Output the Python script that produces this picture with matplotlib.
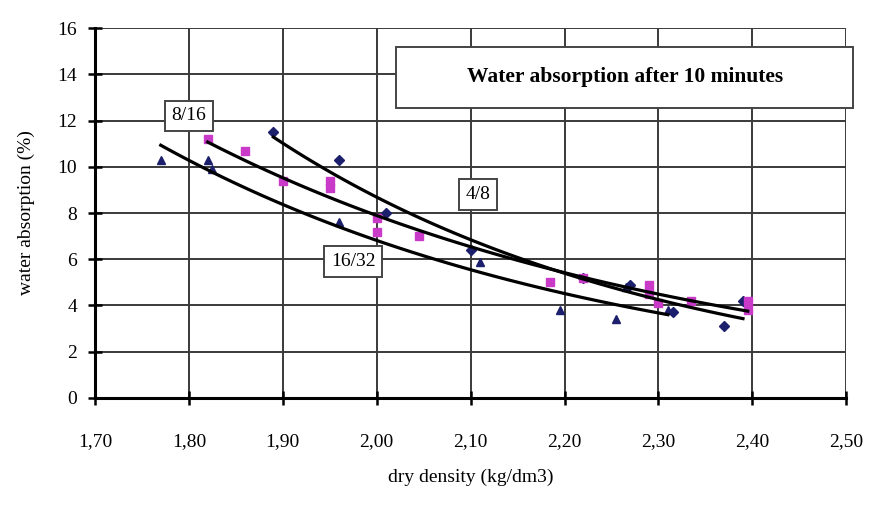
import matplotlib
matplotlib.use("Agg")
import matplotlib.pyplot as plt
from matplotlib.patches import Rectangle
import numpy as np

plt.rcParams['font.family'] = ['Liberation Serif', 'DejaVu Serif']

# measured points, dry density (kg/dm3) vs water absorption (%)
x_48 = [1.89, 1.96, 2.01, 2.10, 2.22, 2.27, 2.315, 2.37, 2.39]
y_48 = [11.5, 10.3, 8.0, 6.4, 5.2, 4.9, 3.7, 3.1, 4.2]

x_816 = [1.82, 1.86, 1.90, 1.95, 1.95, 2.00, 2.00, 2.045, 2.185, 2.22, 2.29, 2.29, 2.30, 2.335, 2.395, 2.395]
y_816 = [11.2, 10.7, 9.4, 9.4, 9.1, 7.8, 7.2, 7.0, 5.0, 5.2, 4.9, 4.5, 4.1, 4.2, 3.8, 4.2]

x_1632 = [1.77, 1.82, 1.825, 1.96, 2.11, 2.195, 2.255, 2.265, 2.31]
y_1632 = [10.3, 10.3, 9.9, 7.6, 5.9, 3.8, 3.4, 4.8, 3.8]

xticks = [1.70, 1.80, 1.90, 2.00, 2.10, 2.20, 2.30, 2.40, 2.50]
yticks = [0, 2, 4, 6, 8, 10, 12, 14, 16]

navy = '#1c1f6b'
magenta = '#c93ac9'


def exp_trend(x, y):
    # exponential trendline, fitted on log(y)
    x = np.asarray(x)
    b, a = np.polyfit(x, np.log(y), 1)
    xs = np.linspace(x.min(), x.max(), 100)
    return xs, np.exp(a + b * xs)


fig = plt.figure(figsize=(8.74, 5.15), dpi=100)
ax = fig.add_axes([0.1087, 0.2272, 0.8596, 0.7184])

ax.plot(x_48, y_48, 'D', color=navy, ms=5, zorder=3)
ax.plot(x_816, y_816, 's', color=magenta, ms=6, zorder=3)
ax.plot(x_1632, y_1632, '^', color=navy, ms=6, zorder=3)

for xs_, ys_ in [(x_48, y_48), (x_816, y_816), (x_1632, y_1632)]:
    tx, ty = exp_trend(xs_, ys_)
    ax.plot(tx, ty, color='black', lw=2.3, zorder=4)

ax.set_xlim(1.70, 2.50)
ax.set_ylim(0, 16)
ax.set_xticks(xticks)
ax.set_yticks(yticks)
ax.set_xticklabels([f"{t:.2f}".replace('.', ',') for t in xticks])
ax.grid(True, color='#3a3a3a', lw=1.4)
ax.set_axisbelow(True)
for s in ['top', 'right']:
    ax.spines[s].set_visible(False)
for s in ['left', 'bottom']:
    ax.spines[s].set_linewidth(2.2)
ax.tick_params(axis='both', direction='inout', length=10, width=1.8, labelsize=14)
ax.tick_params(axis='x', pad=20)
ax.tick_params(axis='y', pad=8)

ax.set_xlabel('dry density (kg/dm3)', fontsize=14, labelpad=14)
ax.set_ylabel('water absorption (%)', fontsize=14, labelpad=16)

box = dict(boxstyle='square,pad=0.35', fc='white', ec='#444444', lw=1.4)
ax.text(1.80, 12.2, '8/16', fontsize=14, ha='center', va='center', bbox=box, zorder=5)
ax.text(2.108, 8.8, '4/8', fontsize=14, ha='center', va='center', bbox=box, zorder=5)
ax.text(1.975, 5.9, '16/32', fontsize=14, ha='center', va='center', bbox=box, zorder=5)

# title box, runs a little past the right edge of the plot
ax.add_patch(Rectangle((2.021, 12.55), 0.486, 2.65, fc='white', ec='#444444', lw=1.4,
                       clip_on=False, zorder=5))
ax.text(2.264, 13.9, 'Water absorption after 10 minutes', fontsize=15.5, fontweight='bold',
        ha='center', va='center', zorder=6)

fig.savefig('out.png', dpi=100)
